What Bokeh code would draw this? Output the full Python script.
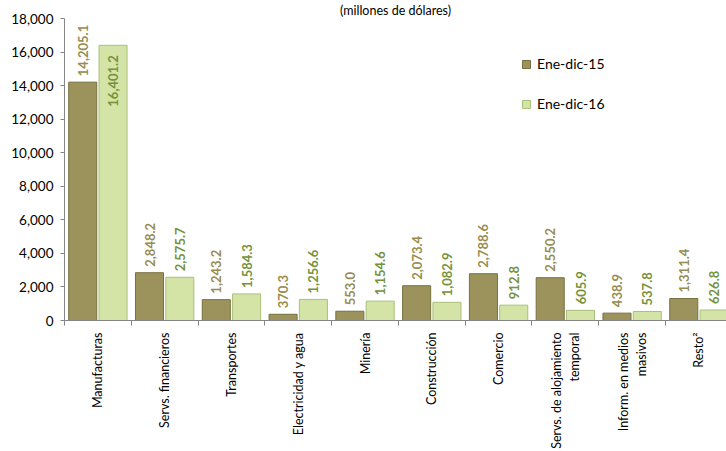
from bokeh.plotting import figure
from bokeh.models import (ColumnDataSource, Range1d, FixedTicker, NumeralTickFormatter,
                          Legend, LegendItem, CDSView, BooleanFilter)
from bokeh.transform import dodge
from bokeh.core.properties import value
from bokeh.embed import file_html
from bokeh.resources import INLINE
import math

categories = ["Manufacturas", "Servs. financieros", "Transportes", "Electricidad y agua",
              "Minería", "Construcción", "Comercio", "Servs. de alojamiento\ntemporal",
              "Inform. en medios\nmasivos", "Resto²"]
ene_dic_15 = [14205.1, 2848.2, 1243.2, 370.3, 553.0, 2073.4, 2788.6, 2550.2, 438.9, 1311.4]
ene_dic_16 = [16401.2, 2575.7, 1584.3, 1256.6, 1154.6, 1082.9, 912.8, 605.9, 537.8, 626.8]
y_ticks = [0, 2000, 4000, 6000, 8000, 10000, 12000, 14000, 16000, 18000]
series_names = ["Ene-dic-15", "Ene-dic-16"]
title_text = "(millones de dólares)"

FONT = "Lato"
C15 = "#9c935c"
C16 = "#d4e4a6"
T15 = "#978d50"
T16 = "#76923c"
Y_MAX = 18000
LABEL_SPAN = 3300  # approx. data height taken by a rotated value label

xs = list(range(len(categories)))
src = ColumnDataSource(dict(
    x=xs, v15=ene_dic_15, v16=ene_dic_16,
    l15=[f"{v:,.1f}" for v in ene_dic_15],
    l16=[f"{v:,.1f}" for v in ene_dic_16],
))

p = figure(width=726, height=451, output_backend="svg", toolbar_location=None,
           x_range=Range1d(-0.5, 9.413), y_range=Range1d(0, Y_MAX),
           min_border_left=64, min_border_right=0, min_border_top=17, min_border_bottom=131,
           title=title_text)
p.outline_line_color = None
p.grid.grid_line_color = None
p.background_fill_color = "white"

p.title.align = "center"
p.title.offset = -32
p.title.standoff = 1
p.title.text_font = FONT
p.title.text_font_size = "12.5px"
p.title.text_font_style = "normal"
p.title.text_color = "#000000"

off = 0.227
w = 0.42
r15 = p.vbar(x=dodge("x", -off, range=p.x_range), top="v15", width=w, source=src,
             fill_color=C15, line_color="#77703f", line_width=1)
r16 = p.vbar(x=dodge("x", off, range=p.x_range), top="v16", width=w, source=src,
             fill_color=C16, line_color="#aabf7c", line_width=1)

label_kw = dict(angle=math.pi / 2, text_baseline="middle", text_font=value(FONT),
                text_font_size="13px", text_font_style="bold")

for col, lab, color, dx in (("v15", "l15", T15, -off), ("v16", "l16", T16, off)):
    vals = src.data[col]
    outside = [v + LABEL_SPAN <= Y_MAX for v in vals]
    inside = [not o for o in outside]
    p.text(x=dodge("x", dx, range=p.x_range), y=col, text=lab, source=src,
           view=CDSView(filter=BooleanFilter(outside)),
           y_offset=-6, text_align="left", text_color=color, **label_kw)
    if any(inside):
        p.text(x=dodge("x", dx, range=p.x_range), y=col, text=lab, source=src,
               view=CDSView(filter=BooleanFilter(inside)),
               y_offset=10, text_align="right", text_color=color, **label_kw)

# y axis
ya = p.yaxis[0]
ya.ticker = FixedTicker(ticks=y_ticks)
ya.formatter = NumeralTickFormatter(format="0,0")
ya.axis_line_color = "#868686"
ya.major_tick_line_color = "#868686"
ya.major_tick_out = 4
ya.major_tick_in = 0
ya.minor_tick_line_color = None
ya.major_label_standoff = 7
ya.major_label_text_font = FONT
ya.major_label_text_font_size = "13.5px"
ya.major_label_text_color = "#000000"

# x axis
xa = p.xaxis[0]
xa.ticker = FixedTicker(ticks=xs, minor_ticks=[i - 0.5 for i in range(len(categories) + 1)])
xa.major_label_overrides = {i: c for i, c in enumerate(categories)}
xa.major_label_orientation = math.pi / 2
xa.axis_line_color = "#868686"
xa.major_tick_line_color = None
xa.minor_tick_line_color = "#868686"
xa.minor_tick_out = 5
xa.minor_tick_in = 0
xa.major_label_standoff = 6
xa.major_label_text_font = FONT
xa.major_label_text_font_size = "12.5px"
xa.major_label_text_color = "#000000"

legend = Legend(items=[LegendItem(label=series_names[0], renderers=[r15]),
                       LegendItem(label=series_names[1], renderers=[r16])],
                location=(457, 208), orientation="vertical",
                glyph_width=10, glyph_height=10, label_height=14, spacing=23,
                padding=0, margin=0, label_standoff=6,
                label_text_font=FONT, label_text_font_size="14px", label_text_color="#000000",
                border_line_color=None, background_fill_alpha=0)
p.add_layout(legend, "center")

open("out.html", "w").write(file_html(p, INLINE))
